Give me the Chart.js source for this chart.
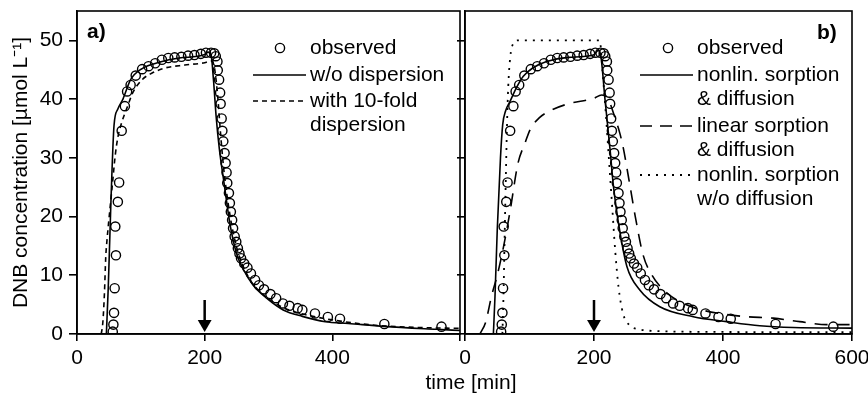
<!DOCTYPE html>
<html>
<head>
<meta charset="utf-8">
<script src="https://cdn.jsdelivr.net/npm/chart.js@4.4.0/dist/chart.umd.min.js"></script>
<style>
  html, body { margin: 0; padding: 0; background: #fff; }
  #wrap { position: relative; width: 868px; height: 394px; overflow: hidden; background: #fff; }
  #panelA { position: absolute; left: 0; top: 0; }
  #panelB { position: absolute; left: 452px; top: 0; }
  #xTitle { position: absolute; left: 371px; width: 200px; top: 370px; text-align: center;
            font: 21px "Liberation Sans", Arial, Helvetica, sans-serif; line-height: 24px; color: #000; }
</style>
</head>
<body>
<div id="wrap">
  <canvas id="panelA" width="468" height="394"></canvas>
  <canvas id="panelB" width="416" height="394"></canvas>
  <div id="xTitle">time [min]</div>
</div>
<script>
// observed DNB breakthrough (same data in both panels)
var obsTime = [56, 57, 58, 59, 60, 61, 64, 66, 70, 75, 78.5, 84, 92, 102, 112, 122.5, 133, 143, 153, 163.5, 174, 184, 194, 202, 210, 215,
    217.4, 220, 220.5, 222.6, 224.2, 225, 226.6, 227.7, 229.2, 231.2, 232.8, 234.3, 235.4, 238, 239.5, 241, 243, 244.5, 247, 249.5,
    252, 254.5, 257, 262, 267, 272.5, 279, 285, 293, 303, 312, 322.6, 332.8, 345.7, 353, 372.8, 393, 412, 481.5, 571];
var obsConc = [0.4, 1.6, 3.6, 7.8, 18.3, 13.4, 22.5, 25.8, 34.6, 38.8, 41.3, 42.4, 44.0, 45.1, 45.6, 46.1, 46.7, 47.0, 47.1, 47.2, 47.4, 47.5, 47.7, 47.9, 47.9, 47.8,
    47.3, 46.4, 44.9, 43.3, 41.1, 39.2, 36.7, 34.6, 32.8, 30.8, 29.1, 27.5, 25.7, 24.0, 22.3, 20.8, 19.4, 18.0, 16.6, 15.7,
    14.6, 13.7, 12.9, 12.0, 11.3, 10.3, 9.2, 8.3, 7.6, 6.8, 6.1, 5.2, 4.8, 4.4, 4.1, 3.5, 2.9, 2.6, 1.7, 1.25];

// panel a) models
var noDispTime = [46, 49, 53, 58, 64, 72, 84, 102, 130, 160, 200, 205, 210, 214, 218, 223, 230, 240, 250, 261, 276, 297, 323, 353, 389, 425, 481, 563, 600];
var noDispConc = [0, 8, 22, 35.5, 38.3, 40, 43.3, 45.2, 46.3, 47, 47.6, 48, 47.5, 43, 37, 31.5, 26, 18.5, 13.7, 10.9, 8.3, 6.1, 4.1, 3.0, 2.1, 1.8, 1.3, 0.8, 0.6];
var disp10Time = [38, 40.5, 43, 45, 47, 50, 55, 60, 64, 70, 79, 87, 102, 117, 138, 169, 200, 210, 215, 220, 225, 230, 240, 250, 260, 275, 300, 325, 350, 400, 466, 538, 600];
var disp10Conc = [0, 2, 7, 13, 16, 19.5, 25, 30.5, 33.5, 36, 38.7, 41, 43.3, 44.4, 45.3, 45.8, 46.2, 46.5, 45.5, 41, 34, 28, 20, 14.8, 11.6, 8.6, 6.0, 4.4, 3.5, 2.4, 1.5, 1.1, 0.95];

// panel b) models
var nonlinDiffTime = [44, 46.5, 50, 55, 58.4, 63, 69.8, 80, 90.4, 105, 126.6, 160, 199, 206.7, 211, 217, 225, 230, 240, 251, 271, 302, 354, 406, 457, 509, 600];
var nonlinDiffConc = [0, 6.4, 17.7, 30, 35.6, 38, 39.6, 42, 43.9, 45.3, 46.4, 47.1, 47.5, 48.3, 47, 40, 31.3, 25.3, 17.5, 11.5, 7.5, 4.65, 2.95, 2.1, 1.4, 1.1, 1.0];
var linDiffTime = [23, 32, 41, 50, 60, 70, 82, 93, 101, 115, 130, 160, 199, 212, 222, 232, 240, 245, 256, 264, 276, 290, 310, 335, 360, 400, 437, 478, 519, 561, 600];
var linDiffConc = [0, 2, 6.4, 10, 15, 21, 29, 32.5, 34.8, 36.8, 37.9, 39.2, 40.1, 40.7, 40, 37, 34.2, 31.9, 25.1, 20, 13.5, 10, 7.3, 5.4, 4.3, 3.4, 2.95, 2.7, 2.1, 1.6, 1.6];
var nonlinNoDiffTime = [58, 60, 61, 63, 65, 67, 70, 75, 82, 209, 213, 218, 223, 228, 233, 238, 245, 255, 270, 300, 400, 600];
var nonlinNoDiffConc = [0, 8, 14, 25, 35, 42, 47, 49.5, 50, 50, 45, 38, 30, 22, 14, 8, 3.5, 1.5, 0.8, 0.5, 0.35, 0.3];

// switch of inflow (arrow)
var arrowTime = 200;
var arrowShaft = [5.8, 1.5];
var arrowTip = 1.7;

var xTicksA = [0, 200, 400];
var xTicksB = [0, 200, 400, 600];
var yTicks = [0, 10, 20, 30, 40, 50];

var legendA = [['observed'], ['w/o dispersion'], ['with 10-fold', 'dispersion']];
var legendB = [['observed'], ['nonlin. sorption', '& diffusion'], ['linear sorption', '& diffusion'], ['nonlin. sorption', 'w/o diffusion']];

var FONT = '"Liberation Sans", Arial, Helvetica, sans-serif';
Chart.defaults.font.family = FONT;
Chart.defaults.font.size = 21;
Chart.defaults.color = '#000';

function pts(xs, ys) {
    return xs.map(function (x, i) { return { x: x, y: ys[i] }; });
}

function observedSet() {
    return {
        data: pts(obsTime, obsConc),
        pointRadius: 4.6,
        pointBorderWidth: 1.4,
        pointBorderColor: '#000',
        pointBackgroundColor: 'rgba(0,0,0,0)',
        borderColor: '#000',
        backgroundColor: 'rgba(0,0,0,0)'
    };
}

function curveSet(xs, ys, dash, width) {
    return {
        data: pts(xs, ys),
        showLine: true,
        pointRadius: 0,
        borderColor: '#000',
        borderWidth: width || 1.6,
        borderDash: dash || [],
        cubicInterpolationMode: 'monotone'
    };
}

function arrowSets() {
    return [{
        data: arrowShaft.map(function (v) { return { x: arrowTime, y: v }; }),
        showLine: true,
        pointRadius: 0,
        borderColor: '#000',
        borderWidth: 2.5
    }, {
        data: [{ x: arrowTime, y: arrowTip }],
        pointStyle: 'triangle',
        pointRotation: 180,
        pointRadius: 8,
        pointBorderWidth: 0,
        pointBackgroundColor: '#000',
        pointBorderColor: '#000'
    }];
}

// box around the plotting area
var framePlugin = {
    id: 'frame',
    afterDraw: function (chart) {
        var a = chart.chartArea, ctx = chart.ctx;
        ctx.save();
        ctx.strokeStyle = '#000';
        ctx.lineWidth = 1.6;
        ctx.strokeRect(a.left, a.top, a.right - a.left, a.bottom - a.top);
        ctx.restore();
    }
};

// legend drawn inside the panel
var legendPlugin = {
    id: 'panelLegend',
    afterDraw: function (chart, args, o) {
        var ctx = chart.ctx;
        ctx.save();
        ctx.fillStyle = '#000';
        ctx.strokeStyle = '#000';
        ctx.textAlign = 'left';
        ctx.textBaseline = 'middle';
        ctx.font = 'bold 21px ' + FONT;
        ctx.fillText(o.tag, o.tagX, o.tagY);
        ctx.font = '21px ' + FONT;
        o.entries.forEach(function (e, i) {
            var y = o.rows[i];
            ctx.setLineDash([]);
            if (e.marker) {
                ctx.lineWidth = 1.4;
                ctx.beginPath();
                ctx.arc(o.markX, y, 4.6, 0, Math.PI * 2);
                ctx.stroke();
            } else {
                ctx.lineWidth = e.width || 1.6;
                ctx.setLineDash(e.dash);
                ctx.beginPath();
                ctx.moveTo(o.lineX0, y);
                ctx.lineTo(o.lineX1, y);
                ctx.stroke();
            }
            e.text.forEach(function (t, j) {
                ctx.fillText(t, o.textX, y + j * o.gap);
            });
        });
        ctx.restore();
    }
};

function axisY(showLabels, width, withTitle) {
    return {
        type: 'linear',
        min: 0,
        max: 55,
        afterBuildTicks: function (s) { s.ticks = yTicks.map(function (v) { return { value: v }; }); },
        ticks: {
            padding: 6,
            callback: function (v) { return showLabels ? v : ''; }
        },
        grid: { drawOnChartArea: false, drawTicks: true, tickLength: 8, color: '#000', lineWidth: 1.6 },
        border: { display: true, color: '#000', width: 1.6 },
        title: {
            display: withTitle,
            text: 'DNB concentration [µmol L⁻¹]',
            font: { size: 21 },
            padding: { top: 9, bottom: 0 }
        },
        afterFit: function (s) { s.width = width; s.paddingTop = 0; s.paddingBottom = 0; }
    };
}

function axisX(tickList) {
    return {
        type: 'linear',
        min: 0,
        max: 600,
        afterBuildTicks: function (s) { s.ticks = xTicksB.map(function (v) { return { value: v }; }); },
        ticks: {
            padding: 5,
            maxRotation: 0,
            callback: function (v) { return tickList.indexOf(v) >= 0 ? v : ''; }
        },
        grid: { drawOnChartArea: false, drawTicks: true, tickLength: 7, color: '#000', lineWidth: 1.6 },
        border: { display: true, color: '#000', width: 1.6 },
        afterFit: function (s) { s.height = 60; s.paddingLeft = 0; s.paddingRight = 0; }
    };
}

var chartA = new Chart(document.getElementById('panelA'), {
    type: 'scatter',
    data: {
        datasets: [observedSet(), curveSet(noDispTime, noDispConc, [], 1.6), curveSet(disp10Time, disp10Conc, [5, 4], 1.6)].concat(arrowSets())
    },
    options: {
        responsive: false,
        animation: false,
        events: [],
        layout: { padding: { left: 0, right: 3, top: 11, bottom: 0 } },
        plugins: {
            legend: { display: false },
            tooltip: { enabled: false },
            panelLegend: {
                tag: 'a)', tagX: 87, tagY: 32,
                markX: 280, lineX0: 253, lineX1: 306, textX: 310, gap: 24,
                rows: [48, 75, 101],
                entries: [
                    { marker: true, text: legendA[0] },
                    { dash: [], text: legendA[1] },
                    { dash: [5, 4], text: legendA[2] }
                ]
            }
        },
        scales: { x: axisX(xTicksA), y: axisY(true, 77, true) }
    },
    plugins: [framePlugin, legendPlugin]
});

var chartB = new Chart(document.getElementById('panelB'), {
    type: 'scatter',
    data: {
        datasets: [observedSet(),
            curveSet(nonlinDiffTime, nonlinDiffConc, [], 1.6),
            curveSet(linDiffTime, linDiffConc, [13, 9], 1.6),
            curveSet(nonlinNoDiffTime, nonlinNoDiffConc, [2, 6], 1.8)].concat(arrowSets())
    },
    options: {
        responsive: false,
        animation: false,
        events: [],
        layout: { padding: { left: 0, right: 16, top: 11, bottom: 0 } },
        plugins: {
            legend: { display: false },
            tooltip: { enabled: false },
            panelLegend: {
                tag: 'b)', tagX: 365, tagY: 33,
                markX: 216, lineX0: 188, lineX1: 241, textX: 245, gap: 24,
                rows: [48, 75, 126, 175],
                entries: [
                    { marker: true, text: legendB[0] },
                    { dash: [], text: legendB[1] },
                    { dash: [12, 8], text: legendB[2] },
                    { dash: [2, 6], width: 1.8, text: legendB[3] }
                ]
            }
        },
        scales: { x: axisX(xTicksB), y: axisY(false, 13, false) }
    },
    plugins: [framePlugin, legendPlugin]
});
</script>
</body>
</html>
